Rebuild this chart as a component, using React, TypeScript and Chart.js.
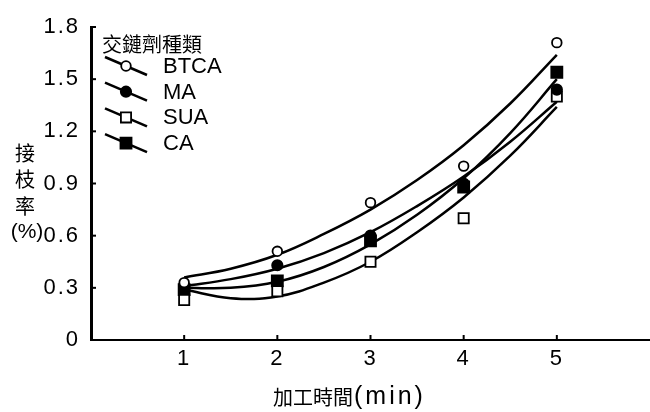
import { useEffect, useRef } from 'react';
import { Chart, registerables } from 'chart.js';

Chart.register(...registerables);

// ---- data ----
const xCategories = [1, 2, 3, 4, 5];
const seriesNames = ['BTCA', 'MA', 'SUA', 'CA'];
const btcaValues = [0.33, 0.51, 0.79, 1.0, 1.71];
const maValues = [0.31, 0.43, 0.6, 0.9, 1.44];
const suaValues = [0.23, 0.28, 0.45, 0.7, 1.4];
const caValues = [0.29, 0.34, 0.57, 0.88, 1.54];

const curveX = [1, 1.5, 2, 2.5, 3, 3.5, 4, 4.5, 5];
const btcaCurve = [0.36, 0.41, 0.49, 0.61, 0.75, 0.92, 1.12, 1.36, 1.64];
const maCurve = [0.31, 0.35, 0.41, 0.5, 0.62, 0.77, 0.94, 1.14, 1.37];
const suaCurve = [0.29, 0.24, 0.25, 0.33, 0.45, 0.62, 0.82, 1.06, 1.34];
const caCurve = [0.3, 0.3, 0.335, 0.42, 0.55, 0.72, 0.93, 1.19, 1.5];

const yTicks = [0, 0.3, 0.6, 0.9, 1.2, 1.5, 1.8];
const xTicks = [1, 2, 3, 4, 5];

const legendTitle = '交鏈劑種類';
const xTitleCjk = '加工時間';
const xTitleLatin = '(min)';
const yTitleLines = ['接', '枝', '率', '(%)'];

// ---- styles ----
const pointStyles = ['circle', 'circle', 'rect', 'rect'];
const pointFilled = [false, true, false, true];
const pointRadii = [4.8, 5.2, 7.2, 7.8];

const LATIN = '"Liberation Sans", Arial, sans-serif';
const CJK = '"Noto Sans CJK TC", "Noto Sans CJK SC", sans-serif';

const seriesValues = [btcaValues, maValues, suaValues, caValues];
const curveValues = [btcaCurve, maCurve, suaCurve, caCurve];

function setSpacing(ctx: any, v: string) {
  try {
    ctx.letterSpacing = v;
  } catch (e) {}
}

function drawMarker(ctx: CanvasRenderingContext2D, i: number, x: number, y: number) {
  const style = pointStyles[i];
  const filled = pointFilled[i];
  const r = pointRadii[i];
  ctx.save();
  ctx.lineWidth = 1.8;
  ctx.strokeStyle = '#000';
  ctx.fillStyle = filled ? '#000' : '#fff';
  ctx.beginPath();
  if (style === 'circle') {
    ctx.arc(x, y, r, 0, Math.PI * 2);
  } else {
    const h = r * Math.SQRT1_2;
    ctx.rect(x - h, y - h, 2 * h, 2 * h);
  }
  ctx.fill();
  ctx.stroke();
  ctx.restore();
}

const decorPlugin = {
  id: 'decor',
  beforeDraw(chart: any) {
    setSpacing(chart.ctx, '2px');
  },
  beforeDatasetsDraw(chart: any) {
    setSpacing(chart.ctx, '0px');
  },
  afterDraw(chart: any) {
    const { ctx, chartArea } = chart;
    const { left, bottom } = chartArea;
    const xs = chart.scales.x;
    const ys = chart.scales.y;
    ctx.save();
    setSpacing(ctx, '0px');
    ctx.strokeStyle = '#000';
    ctx.lineWidth = 2;
    // inward tick marks
    yTicks.forEach((v) => {
      if (v === 0) return;
      const y = ys.getPixelForValue(v);
      ctx.beginPath();
      ctx.moveTo(left, y);
      ctx.lineTo(left + 5, y);
      ctx.stroke();
    });
    xTicks.forEach((v) => {
      const x = xs.getPixelForValue(v);
      ctx.beginPath();
      ctx.moveTo(x, bottom);
      ctx.lineTo(x, bottom - 5);
      ctx.stroke();
    });

    ctx.fillStyle = '#000';
    ctx.textBaseline = 'middle';

    // y title (stacked)
    ctx.textAlign = 'center';
    const yTitleY = [153, 179, 206, 232];
    const yTitleX = [25, 25, 25, 27];
    yTitleLines.forEach((t, i) => {
      ctx.font = i < 3 ? `20px ${CJK}` : `21px ${LATIN}`;
      ctx.fillText(t, yTitleX[i], yTitleY[i]);
    });

    // x title
    ctx.textAlign = 'left';
    ctx.font = `20px ${CJK}`;
    const startX = 273;
    ctx.fillText(xTitleCjk, startX, 397);
    const w = ctx.measureText(xTitleCjk).width;
    ctx.font = `25px ${LATIN}`;
    setSpacing(ctx, '3px');
    ctx.fillText(xTitleLatin, startX + w + 1, 397);
    setSpacing(ctx, '0px');

    // legend
    ctx.font = `20px ${CJK}`;
    ctx.fillText(legendTitle, 102, 44);
    seriesNames.forEach((name, i) => {
      const cy = 66 + i * 25.7;
      const cx = 126;
      ctx.save();
      ctx.lineWidth = 2.5;
      ctx.beginPath();
      ctx.moveTo(cx - 21, cy - 9);
      ctx.lineTo(cx + 21, cy + 9);
      ctx.stroke();
      ctx.restore();
      drawMarker(ctx, i, cx, cy);
      ctx.font = `22px ${LATIN}`;
      ctx.fillText(name, 163, cy + 1);
    });
    ctx.restore();
  },
};

export default function App() {
  const ref = useRef<HTMLCanvasElement>(null);
  useEffect(() => {
    if (!ref.current) return;
    const markerSets = seriesNames.map((name, i) => ({
      label: name,
      data: xCategories.map((x, j) => ({ x, y: seriesValues[i][j] })),
      showLine: false,
      pointStyle: pointStyles[i],
      pointRadius: pointRadii[i],
      pointHoverRadius: pointRadii[i],
      pointBorderWidth: 1.8,
      pointBorderColor: '#000',
      pointBackgroundColor: pointFilled[i] ? '#000' : '#fff',
      clip: false,
      order: 0,
    }));
    const curveSets = seriesNames.map((name, i) => ({
      label: name + ' fit',
      data: curveX.map((x, j) => ({ x, y: curveValues[i][j] })),
      showLine: true,
      tension: 0.4,
      borderColor: '#000',
      borderWidth: 2.5,
      pointRadius: 0,
      pointHoverRadius: 0,
      fill: false,
      clip: false,
      order: 1,
    }));
    const chart = new Chart(ref.current, {
      type: 'scatter',
      data: { datasets: [...markerSets, ...curveSets] as any },
      options: {
        animation: false,
        responsive: true,
        maintainAspectRatio: false,
        layout: { autoPadding: false, padding: { top: 27, right: 0, left: 0, bottom: 0 } },
        plugins: {
          legend: { display: false },
          tooltip: { enabled: false },
        },
        scales: {
          x: {
            type: 'linear',
            min: 0,
            max: 6,
            afterBuildTicks: (s: any) => {
              s.ticks = xTicks.map((v) => ({ value: v }));
            },
            afterFit: (s: any) => {
              s.height = 72;
              s.paddingLeft = 0;
              s.paddingRight = 0;
            },
            grid: { display: true, drawOnChartArea: false, drawTicks: false },
            border: { display: true, color: '#000', width: 2 },
            ticks: {
              color: '#000',
              font: { family: LATIN, size: 22 },
              padding: 6,
              maxRotation: 0,
              autoSkip: false,
              callback: (v: any) => String(v),
            },
          },
          y: {
            type: 'linear',
            min: 0,
            max: 1.8,
            afterBuildTicks: (s: any) => {
              s.ticks = yTicks.map((v) => ({ value: v }));
            },
            afterFit: (s: any) => {
              s.width = 91;
            },
            grid: { display: true, drawOnChartArea: false, drawTicks: false },
            border: { display: true, color: '#000', width: 3 },
            ticks: {
              color: '#000',
              font: { family: LATIN, size: 22 },
              padding: 11,
              autoSkip: false,
              callback: (v: any) => (Number(v) === 0 ? '0' : Number(v).toFixed(1)),
            },
          },
        },
      },
      plugins: [decorPlugin],
    });
    return () => chart.destroy();
  }, []);
  return (
    <div style={{ position: 'fixed', left: 0, top: 0, width: 650, height: 412, background: '#fff' }}>
      <canvas ref={ref} />
    </div>
  );
}
